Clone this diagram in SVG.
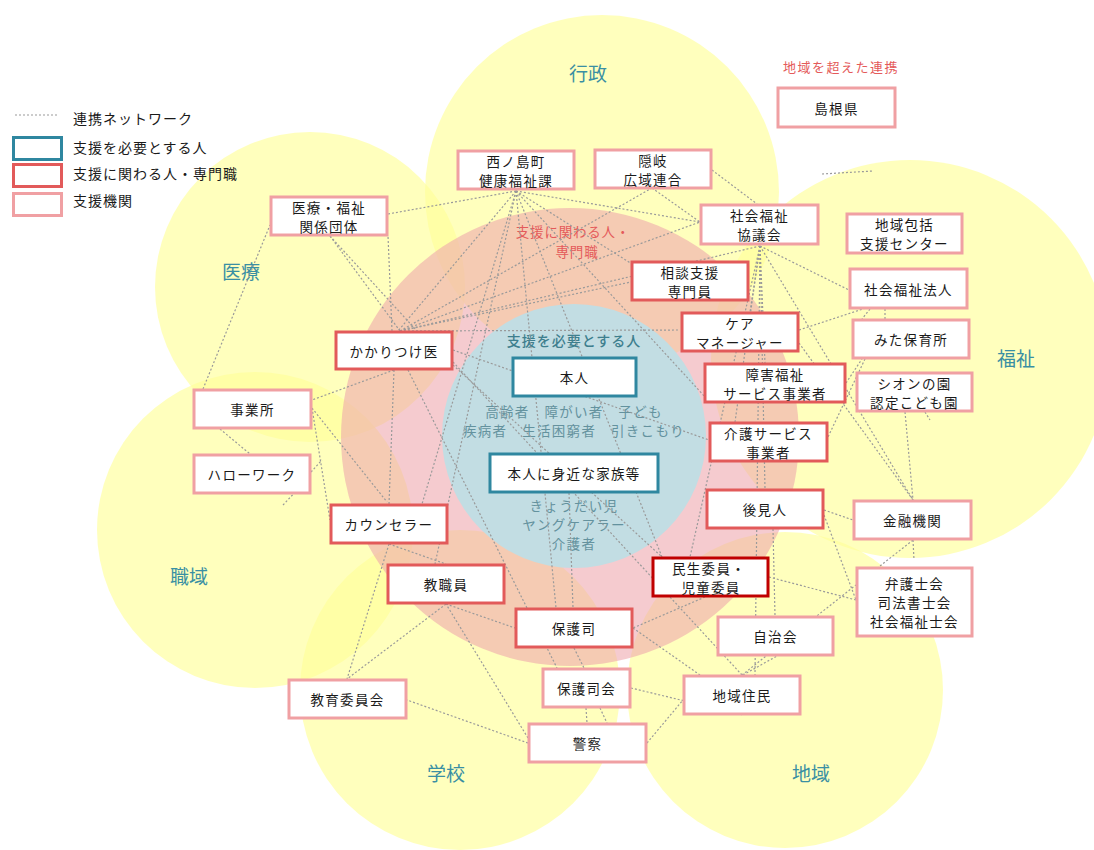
<svg xmlns="http://www.w3.org/2000/svg" width="1094" height="850" viewBox="0 0 1094 850">
<defs>
<style>
.yc{fill:#ffff99;fill-opacity:0.65}
.t{font-family:"Noto Sans CJK JP","Noto Sans",sans-serif;font-size:13.5px;fill:#1a1a1a;text-anchor:middle;dominant-baseline:central;letter-spacing:1.3px}
.lg{font-family:"Noto Sans CJK JP","Noto Sans",sans-serif;font-size:14px;fill:#1a1a1a;dominant-baseline:central;letter-spacing:1px}
.area{font-family:"Noto Sans CJK JP","Noto Sans",sans-serif;font-size:19px;fill:#3a8fa3;text-anchor:middle;dominant-baseline:central}
.red{font-family:"Noto Sans CJK JP","Noto Sans",sans-serif;font-size:13.5px;fill:#e45a5a;text-anchor:middle;dominant-baseline:central;letter-spacing:0.8px}
.bt{font-family:"Noto Sans CJK JP","Noto Sans",sans-serif;font-size:14px;fill:#3e7f8e;text-anchor:middle;dominant-baseline:central;font-weight:500;letter-spacing:1px}
.st{font-family:"Noto Sans CJK JP","Noto Sans",sans-serif;font-size:13.5px;fill:#64929e;text-anchor:middle;dominant-baseline:central;letter-spacing:1.3px}
.b{fill:#fff;stroke-width:3}
.teal{stroke:#2f87a0}
.rd{stroke:#e25a5a}
.pk{stroke:#f0a0a3}
.dr{stroke:#c00000}
.c line{stroke:#9a9a9a;stroke-width:1.2;stroke-dasharray:2 2}
</style>
</defs>

<g id="background">
<circle class="yc" cx="602" cy="192" r="177"/>
<circle class="yc" cx="310" cy="287" r="155"/>
<circle class="yc" cx="910" cy="359" r="199"/>
<circle class="yc" cx="255" cy="530" r="158"/>
<circle class="yc" cx="460" cy="690" r="160"/>
<circle class="yc" cx="785" cy="690" r="158"/>
<circle cx="570" cy="437" r="229" fill="#eea5ad" fill-opacity="0.58"/>
<circle cx="574" cy="436" r="132" fill="#c2dde3"/>
</g>

<g id="labels">
<text class="area" x="588" y="72">行政</text>
<text class="area" x="241" y="270">医療</text>
<text class="area" x="1016" y="357">福祉</text>
<text class="area" x="189" y="575">職域</text>
<text class="area" x="446" y="772">学校</text>
<text class="area" x="811" y="772">地域</text>
<text class="red" x="573" y="231">支援に関わる人・</text>
<text class="red" x="577" y="251">専門職</text>
<text class="red" x="841" y="66" style="font-size:13px;letter-spacing:1.5px">地域を超えた連携</text>
<text class="bt" x="574" y="340">支援を必要とする人</text>
<text class="st" x="574" y="411">高齢者　障がい者　子ども</text>
<text class="st" x="574" y="430">疾病者　生活困窮者　引きこもり</text>
<text class="st" x="574" y="505">きょうだい児</text>
<text class="st" x="574" y="524">ヤングケアラー</text>
<text class="st" x="574" y="543">介護者</text>
</g>

<g id="legend">
<line x1="15" y1="115" x2="58" y2="115" stroke="#9a9a9a" stroke-width="1.2" stroke-dasharray="2 2"/>
<text class="lg" x="73" y="118">連携ネットワーク</text>
<rect class="b teal" x="13.5" y="137.5" width="48" height="22"/>
<text class="lg" x="73" y="147">支援を必要とする人</text>
<rect class="b rd" x="13.5" y="164.5" width="48" height="22"/>
<text class="lg" x="73" y="173">支援に関わる人・専門職</text>
<rect class="b pk" x="13.5" y="193.5" width="48" height="22"/>
<text class="lg" x="73" y="200">支援機関</text>
</g>

<g id="connectors" class="c">
<line x1="516" y1="191" x2="388" y2="214"/>
<line x1="516" y1="191" x2="398" y2="331"/>
<line x1="516" y1="191" x2="700" y2="222"/>
<line x1="516" y1="191" x2="632" y2="264"/>
<line x1="516" y1="191" x2="706" y2="398"/>
<line x1="516" y1="191" x2="662" y2="557"/>
<line x1="516" y1="191" x2="556" y2="608"/>
<line x1="516" y1="191" x2="422" y2="504"/>
<line x1="516" y1="191" x2="435" y2="564"/>
<line x1="400" y1="331" x2="652" y2="188"/>
<line x1="400" y1="331" x2="700" y2="222"/>
<line x1="400" y1="331" x2="631" y2="282"/>
<line x1="400" y1="331" x2="760" y2="246"/>
<line x1="400" y1="331" x2="680" y2="330"/>
<line x1="400" y1="331" x2="330" y2="236"/>
<line x1="392" y1="331" x2="388" y2="236"/>
<line x1="330" y1="236" x2="450" y2="367"/>
<line x1="652" y1="188" x2="700" y2="222"/>
<line x1="712" y1="170" x2="757" y2="204"/>
<line x1="760" y1="246" x2="849" y2="290"/>
<line x1="760" y1="246" x2="913" y2="500"/>
<line x1="760" y1="246" x2="750" y2="312"/>
<line x1="760" y1="246" x2="765" y2="363"/>
<line x1="760" y1="246" x2="735" y2="422"/>
<line x1="760" y1="246" x2="765" y2="489"/>
<line x1="760" y1="246" x2="690" y2="557"/>
<line x1="760" y1="246" x2="755" y2="675"/>
<line x1="799" y1="330" x2="890" y2="300"/>
<line x1="799" y1="343" x2="913" y2="500"/>
<line x1="870" y1="309" x2="862" y2="319"/>
<line x1="885" y1="309" x2="885" y2="319"/>
<line x1="865" y1="359" x2="828" y2="437"/>
<line x1="846" y1="383" x2="862" y2="359"/>
<line x1="905" y1="412" x2="913" y2="500"/>
<line x1="925" y1="412" x2="930" y2="420"/>
<line x1="824" y1="510" x2="853" y2="520"/>
<line x1="824" y1="515" x2="856" y2="600"/>
<line x1="773" y1="529" x2="775" y2="616"/>
<line x1="913" y1="540" x2="742" y2="675"/>
<line x1="913" y1="540" x2="914" y2="560"/>
<line x1="769" y1="577" x2="856" y2="600"/>
<line x1="705" y1="597" x2="633" y2="628"/>
<line x1="633" y1="628" x2="700" y2="675"/>
<line x1="574" y1="648" x2="584" y2="668"/>
<line x1="631" y1="688" x2="743" y2="715"/>
<line x1="586" y1="708" x2="587" y2="723"/>
<line x1="600" y1="708" x2="607" y2="723"/>
<line x1="647" y1="743" x2="683" y2="700"/>
<line x1="528" y1="743" x2="407" y2="700"/>
<line x1="528" y1="738" x2="446" y2="604"/>
<line x1="743" y1="675" x2="777" y2="656"/>
<line x1="446" y1="604" x2="347" y2="679"/>
<line x1="446" y1="604" x2="515" y2="628"/>
<line x1="389" y1="544" x2="347" y2="679"/>
<line x1="389" y1="544" x2="446" y2="564"/>
<line x1="394" y1="370" x2="312" y2="400"/>
<line x1="394" y1="370" x2="389" y2="504"/>
<line x1="408" y1="370" x2="557" y2="668"/>
<line x1="453" y1="365" x2="662" y2="557"/>
<line x1="453" y1="362" x2="742" y2="675"/>
<line x1="453" y1="350" x2="709" y2="440"/>
<line x1="312" y1="408" x2="330" y2="520"/>
<line x1="312" y1="408" x2="387" y2="502"/>
<line x1="220" y1="429" x2="250" y2="454"/>
<line x1="203" y1="389" x2="270" y2="225"/>
<line x1="311" y1="472" x2="322" y2="460"/>
<line x1="283" y1="505" x2="300" y2="487"/>
<line x1="822" y1="174" x2="873" y2="171"/>
<line x1="569" y1="493" x2="573" y2="608"/>
</g>

<g id="n-nishinoshima"><rect class="b pk" x="458" y="151" width="116" height="38"/><text class="t" x="516" y="160.5">西ノ島町</text><text class="t" x="516" y="179.5">健康福祉課</text></g>
<g id="n-oki"><rect class="b pk" x="595" y="150" width="116" height="38"/><text class="t" x="653" y="159.5">隠岐</text><text class="t" x="653" y="178.5">広域連合</text></g>
<g id="n-iryo"><rect class="b pk" x="271" y="197" width="116" height="38"/><text class="t" x="329" y="206.5">医療・福祉</text><text class="t" x="329" y="225.5">関係団体</text></g>
<g id="n-shimane"><rect class="b pk" x="778" y="88" width="117" height="39"/><text class="t" x="836.5" y="107.5">島根県</text></g>
<g id="n-shakyo"><rect class="b pk" x="701" y="205" width="117" height="39"/><text class="t" x="759.5" y="215">社会福祉</text><text class="t" x="759.5" y="234">協議会</text></g>
<g id="n-houkatsu"><rect class="b pk" x="847" y="214" width="115" height="39"/><text class="t" x="904.5" y="224">地域包括</text><text class="t" x="904.5" y="243">支援センター</text></g>
<g id="n-hojin"><rect class="b pk" x="850" y="269" width="117" height="39"/><text class="t" x="908.5" y="288.5">社会福祉法人</text></g>
<g id="n-soudan"><rect class="b rd" x="632" y="262" width="116" height="38"/><text class="t" x="690" y="271.5">相談支援</text><text class="t" x="690" y="290.5">専門員</text></g>
<g id="n-caremane"><rect class="b rd" x="682" y="313" width="116" height="38"/><text class="t" x="740" y="322.5">ケア</text><text class="t" x="740" y="341.5">マネージャー</text></g>
<g id="n-mita"><rect class="b pk" x="853" y="320" width="116" height="38"/><text class="t" x="911" y="339">みた保育所</text></g>
<g id="n-shogai"><rect class="b rd" x="705" y="364" width="140" height="38"/><text class="t" x="775" y="373.5">障害福祉</text><text class="t" x="775" y="392.5">サービス事業者</text></g>
<g id="n-sion"><rect class="b pk" x="857" y="373" width="115" height="38"/><text class="t" x="914.5" y="382.5">シオンの園</text><text class="t" x="914.5" y="401.5">認定こども園</text></g>
<g id="n-kaigo"><rect class="b rd" x="710" y="423" width="117" height="38"/><text class="t" x="768.5" y="432.5">介護サービス</text><text class="t" x="768.5" y="451.5">事業者</text></g>
<g id="n-kouken"><rect class="b rd" x="707" y="490" width="116" height="38"/><text class="t" x="765" y="509">後見人</text></g>
<g id="n-kinyu"><rect class="b pk" x="854" y="501" width="117" height="38"/><text class="t" x="912.5" y="520">金融機関</text></g>
<g id="n-bengoshi"><rect class="b pk" x="857" y="568" width="115" height="68"/><text class="t" x="914.5" y="583">弁護士会</text><text class="t" x="914.5" y="602">司法書士会</text><text class="t" x="914.5" y="621">社会福祉士会</text></g>
<g id="n-minsei"><rect class="b dr" x="653" y="558" width="115" height="38"/><text class="t" x="709" y="567.5">民生委員・</text><text class="t" x="711" y="586.5">児童委員</text></g>
<g id="n-jichikai"><rect class="b pk" x="718" y="617" width="115" height="38"/><text class="t" x="775.5" y="636">自治会</text></g>
<g id="n-jumin"><rect class="b pk" x="684" y="676" width="116" height="38"/><text class="t" x="742" y="695">地域住民</text></g>
<g id="n-hogoshi"><rect class="b rd" x="516" y="609" width="116" height="38"/><text class="t" x="574" y="628">保護司</text></g>
<g id="n-kyoshokuin"><rect class="b rd" x="388" y="565" width="116" height="38"/><text class="t" x="446" y="584">教職員</text></g>
<g id="n-hogoshikai"><rect class="b pk" x="543" y="669" width="87" height="38"/><text class="t" x="586.5" y="688">保護司会</text></g>
<g id="n-keisatsu"><rect class="b pk" x="529" y="724" width="117" height="38"/><text class="t" x="587.5" y="743">警察</text></g>
<g id="n-kyoiku"><rect class="b pk" x="289" y="680" width="117" height="38"/><text class="t" x="347.5" y="699">教育委員会</text></g>
<g id="n-counselor"><rect class="b rd" x="331" y="505" width="116" height="38"/><text class="t" x="389" y="524">カウンセラー</text></g>
<g id="n-jigyosho"><rect class="b pk" x="194" y="390" width="117" height="38"/><text class="t" x="252.5" y="409">事業所</text></g>
<g id="n-hellowork"><rect class="b pk" x="194" y="455" width="116" height="38"/><text class="t" x="252" y="474">ハローワーク</text></g>
<g id="n-kakaritsuke"><rect class="b rd" x="336" y="332" width="116" height="37"/><text class="t" x="394" y="350.5">かかりつけ医</text></g>
<g id="n-honnin"><rect class="b teal" x="513" y="358" width="123" height="38"/><text class="t" x="574.5" y="377">本人</text></g>
<g id="n-kazoku"><rect class="b teal" x="490" y="454" width="168" height="38"/><text class="t" x="574" y="473">本人に身近な家族等</text></g>
</svg>
